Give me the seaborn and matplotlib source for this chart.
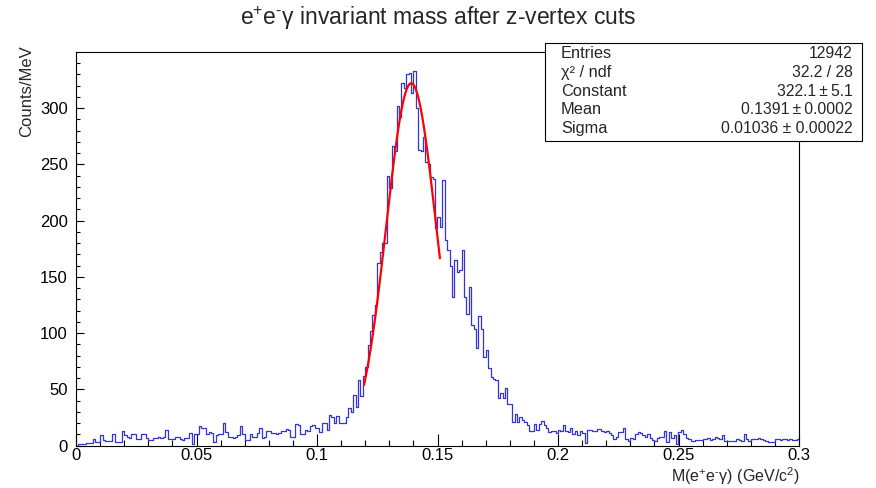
import numpy as np
import pandas as pd
import matplotlib
matplotlib.use("Agg")
import matplotlib.pyplot as plt
from matplotlib.patches import Rectangle
from matplotlib.ticker import MultipleLocator, FuncFormatter
import seaborn as sns

# ---------------- data ----------------
x_min, x_max, n_bins = 0.0, 0.3, 300
counts = [
    0, 1, 1, 1, 2, 2, 2, 6, 3, 3,
    9, 5, 4, 4, 4, 10, 3, 3, 3, 13,
    9, 8, 7, 10, 10, 6, 6, 10, 10, 7,
    5, 5, 7, 7, 8, 7, 8, 14, 6, 6,
    6, 8, 8, 6, 5, 7, 7, 11, 1, 10,
    10, 17, 16, 16, 10, 12, 11, 3, 9, 10,
    10, 20, 12, 8, 8, 7, 8, 9, 17, 10,
    5, 5, 10, 8, 8, 11, 16, 7, 8, 13,
    13, 11, 11, 10, 11, 13, 13, 15, 14, 8,
    8, 19, 18, 10, 10, 14, 13, 17, 18, 16,
    16, 12, 20, 20, 14, 27, 25, 20, 26, 20,
    20, 20, 25, 33, 30, 45, 34, 58, 44, 62,
    70, 89, 102, 116, 125, 162, 172, 180, 180, 240,
    229, 266, 262, 302, 292, 322, 318, 330, 331, 313,
    333, 300, 263, 262, 274, 252, 250, 239, 237, 193,
    203, 194, 236, 183, 174, 160, 132, 165, 154, 156,
    174, 132, 117, 141, 107, 104, 87, 115, 104, 79,
    85, 69, 61, 59, 58, 42, 47, 42, 51, 37,
    37, 21, 28, 21, 25, 23, 21, 18, 13, 13,
    19, 14, 19, 22, 18, 16, 12, 13, 13, 11,
    14, 13, 18, 13, 12, 16, 10, 13, 9, 13,
    11, 2, 14, 14, 13, 13, 15, 15, 13, 12,
    13, 11, 9, 6, 8, 12, 12, 16, 6, 4,
    7, 6, 10, 12, 11, 9, 8, 10, 7, 5,
    4, 7, 8, 8, 13, 3, 12, 7, 9, 1,
    12, 14, 10, 7, 6, 4, 4, 5, 5, 5,
    6, 6, 7, 5, 6, 8, 7, 6, 9, 4,
    4, 4, 4, 4, 6, 5, 4, 10, 6, 4,
    6, 6, 6, 7, 6, 5, 4, 3, 3, 3,
    6, 6, 5, 6, 6, 5, 6, 5, 5, 6,
]
fit_constant, fit_mean, fit_sigma = 322.1, 0.1391, 0.01036
fit_range = (0.1195, 0.151)
stats_labels = ["Entries", "\u03c7\u00b2 / ndf", "Constant", "Mean", "Sigma"]
stats_values = ["12942", "32.2 / 28", "322.1\u2009\u00b1\u20095.1", "0.1391\u2009\u00b1\u20090.0002",
                "0.01036 \u00b1 0.00022"]
title = r"$\mathregular{e^{+}e^{\text{-}}}$" + "\u03b3 invariant mass after z-vertex cuts"
xlabel = r"M($\mathregular{e^{+}e^{\text{-}}}$" + "\u03b3) (GeV/" + r"$\mathregular{c^{2}}$)"
ylabel = "Counts/MeV"
y_top = 349.6

# ---------------- plotting ----------------
sns.set_theme(style="white")
plt.rcParams["font.family"] = ["Liberation Sans", "DejaVu Sans"]
plt.rcParams["mathtext.fontset"] = "custom"
plt.rcParams["mathtext.rm"] = "Liberation Sans"
plt.rcParams["mathtext.it"] = "Liberation Sans:italic"
plt.rcParams["mathtext.bf"] = "Liberation Sans:bold"

W, H = 876, 488
fig = plt.figure(figsize=(W / 100, H / 100), dpi=100)
fig.patch.set_facecolor("white")

ax_l, ax_r, ax_t, ax_b = 76, 799, 52.3, 445.5
ax = fig.add_axes([ax_l / W, 1 - ax_b / H, (ax_r - ax_l) / W, (ax_b - ax_t) / H])

edges = np.linspace(x_min, x_max, n_bins + 1)
centers = 0.5 * (edges[:-1] + edges[1:])
df = pd.DataFrame({"mass": centers, "counts": counts})

sns.histplot(data=df, x="mass", weights="counts", bins=n_bins,
             binrange=(x_min, x_max), element="step",
             fill=False, color="#3535d0", linewidth=0.9, ax=ax)

xf = np.linspace(fit_range[0], fit_range[1], 300)
yf = fit_constant * np.exp(-0.5 * ((xf - fit_mean) / fit_sigma) ** 2)
sns.lineplot(x=xf, y=yf, color="#ff0000", linewidth=1.6, ax=ax)

ax.set_xlim(x_min, x_max)
ax.set_ylim(0, y_top)
ax.set_xlabel("")
ax.set_ylabel("")

for s in ax.spines.values():
    s.set_visible(True)
    s.set_color("black")
    s.set_linewidth(0.8)

ax.xaxis.set_major_locator(MultipleLocator(0.05))
ax.xaxis.set_minor_locator(MultipleLocator(0.01))
ax.yaxis.set_major_locator(MultipleLocator(50))
ax.yaxis.set_minor_locator(MultipleLocator(10))
ax.xaxis.set_major_formatter(FuncFormatter(lambda v, p: "%g" % round(v, 3)))
ax.yaxis.set_major_formatter(FuncFormatter(lambda v, p: "%g" % v))

ax.tick_params(axis="x", which="major", direction="in", length=8.6, width=0.8,
               labelsize=12, pad=2.0, bottom=True, top=False, colors="black")
ax.tick_params(axis="x", which="minor", direction="in", length=4.3, width=0.8,
               bottom=True, top=False, colors="black")
ax.tick_params(axis="y", which="major", direction="in", length=5.4, width=0.8,
               labelsize=12, pad=6, left=True, right=False, colors="black")
ax.tick_params(axis="y", which="minor", direction="in", length=2.7, width=0.8,
               left=True, right=False, colors="black")
ax.grid(False)

# title and axis titles
fig.text(438 / W, 1 - 18 / H, title, ha="center", va="center", fontsize=16.5)
fig.text(800 / W, 1 - 476 / H, xlabel, ha="right", va="center", fontsize=11.5)
fig.text(27 / W, 1 - 45 / H, ylabel, ha="center", va="top", rotation=90, fontsize=12)

# stats box
bx_l, bx_r, bx_t, bx_b = 545, 862, 43, 141
fig.patches.append(Rectangle((bx_l / W, 1 - bx_b / H), (bx_r - bx_l) / W,
                             (bx_b - bx_t) / H, transform=fig.transFigure,
                             facecolor="white", edgecolor="black", linewidth=0.8,
                             zorder=5))
row_y = [54, 72.5, 91, 110, 128.5]
for lab, val, yy in zip(stats_labels, stats_values, row_y):
    fig.text(561 / W, 1 - yy / H, lab, ha="left", va="center", fontsize=11.8, zorder=6)
    fig.text(853 / W, 1 - yy / H, val, ha="right", va="center", fontsize=11.3, zorder=6)

fig.savefig("out.png", dpi=100, facecolor="white")
